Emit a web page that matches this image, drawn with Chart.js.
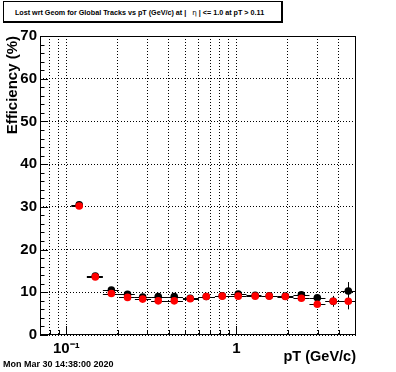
<!DOCTYPE html>
<html lang="en">
<head>
    <meta charset="UTF-8">
    <title>Lost wrt Geom for Global Tracks vs pT</title>
    <script src="https://cdn.jsdelivr.net/npm/chart.js@4.4.0/dist/chart.umd.min.js"></script>
    <style>
        html, body {
            margin: 0;
            padding: 0;
            background: #fff;
        }
        #wrap {
            position: relative;
            width: 396px;
            height: 372px;
            overflow: hidden;
            font-family: "Liberation Sans", Arial, sans-serif;
        }
        #chart {
            position: absolute;
            left: 0;
            top: 0;
        }
        .title-box {
            position: absolute;
            left: 3px;
            top: 1px;
            width: 277px;
            height: 19px;
            border: 1px solid #000;
            border-right-width: 2px;
            border-bottom-width: 2px;
            background: #fff;
            font-weight: bold;
            font-size: 7.2px;
            line-height: 21px;
            text-align: center;
            white-space: nowrap;
        }
        .title-box .eta {
            font-weight: normal;
            font-family: "DejaVu Sans", sans-serif;
        }
        .stamp {
            position: absolute;
            left: 3px;
            top: 359px;
            font-size: 9px;
            font-weight: bold;
            white-space: nowrap;
        }
    </style>
</head>
<body>
<div id="wrap">
    <canvas id="chart" width="396" height="372"></canvas>
    <div class="title-box">Lost wrt Geom for Global Tracks vs pT (GeV/c) at |&nbsp;&nbsp; <span class="eta">η</span> | &lt;= 1.0 at pT &gt; 0.11&nbsp;&nbsp;&nbsp;</div>
    <div class="stamp">Mon Mar 30 14:38:00 2020</div>
</div>
<script>
    // pT bin centres and edges (GeV/c)
    const ptCenter = [0.119, 0.148, 0.184, 0.229, 0.281, 0.347, 0.431, 0.535, 0.665, 0.826, 1.025, 1.29, 1.56, 1.94, 2.41, 2.99, 3.71, 4.55];
    const ptLow    = [0.107, 0.132, 0.164, 0.204, 0.253, 0.315, 0.391, 0.485, 0.602, 0.748, 0.929, 1.146, 1.404, 1.743, 2.165, 2.689, 3.339, 4.118];
    const ptHigh   = [0.125, 0.164, 0.204, 0.253, 0.315, 0.391, 0.485, 0.602, 0.748, 0.929, 1.146, 1.404, 1.743, 2.165, 2.689, 3.339, 4.118, 5.1];

    // efficiency (%) for the two track samples
    const effBlack = [30.5, 13.8, 10.5, 9.5, 8.9, 9.0, 9.0, 8.6, 9.0, 9.2, 9.6, 9.3, 9.2, 9.1, 9.4, 8.7, 7.9, 10.3];
    const errBlack = [0.4, 0.3, 0.3, 0.3, 0.3, 0.3, 0.3, 0.3, 0.3, 0.3, 0.3, 0.3, 0.3, 0.4, 0.4, 0.6, 1.2, 2.1];
    const effRed   = [30.2, 13.6, 9.7, 8.8, 8.4, 8.0, 8.0, 8.5, 9.0, 9.1, 9.1, 9.1, 9.1, 9.0, 8.6, 7.2, 7.9, 7.9];
    const errRed   = [0.4, 0.3, 0.3, 0.3, 0.3, 0.3, 0.3, 0.3, 0.3, 0.3, 0.3, 0.3, 0.3, 0.4, 0.4, 0.6, 1.25, 1.9];

    // axis ticks
    const xTickValues = [0.08, 0.09, 0.1, 0.2, 0.3, 0.4, 0.5, 0.6, 0.7, 0.8, 0.9, 1, 2, 3, 4, 5];
    const xTickLabels = { '0.1': '10\u207B\u00B9', '1': '1' };
    const xMajor = [0.1, 1];
    const yTickValues = [0, 10, 20, 30, 40, 50, 60, 70];

    function points(eff, err) {
        return ptCenter.map((pt, i) => ({ x: pt, y: eff[i], xLo: ptLow[i], xHi: ptHigh[i], err: err[i] }));
    }

    // frame, inside tick marks and error bars (ROOT style)
    const rootFrame = {
        id: 'rootFrame',
        beforeDatasetsDraw(chart) {
            const { ctx, chartArea: a, scales: { x, y } } = chart;
            ctx.save();
            ctx.strokeStyle = '#000';
            ctx.lineWidth = 1;

            // y ticks, 5 subdivisions per major step
            ctx.beginPath();
            for (let i = 0; i < yTickValues.length; i++) {
                const py = Math.round(y.getPixelForValue(yTickValues[i])) + 0.5;
                ctx.moveTo(a.left, py);
                ctx.lineTo(a.left + 8, py);
                if (i < yTickValues.length - 1) {
                    const step = (yTickValues[i + 1] - yTickValues[i]) / 5;
                    for (let k = 1; k < 5; k++) {
                        const my = Math.round(y.getPixelForValue(yTickValues[i] + k * step)) + 0.5;
                        ctx.moveTo(a.left, my);
                        ctx.lineTo(a.left + 4.5, my);
                    }
                }
            }
            // x ticks
            xTickValues.forEach(v => {
                const px = Math.round(x.getPixelForValue(v)) + 0.5;
                const len = xMajor.includes(v) ? 9 : 5;
                ctx.moveTo(px, a.bottom);
                ctx.lineTo(px, a.bottom - len);
            });
            ctx.stroke();

            // frame
            ctx.strokeRect(Math.round(a.left) + 0.5, Math.round(a.top) + 0.5,
                Math.round(a.width) - 1, Math.round(a.height) - 1);

            // error bars
            ctx.beginPath();
            ctx.rect(a.left, a.top, a.width, a.height);
            ctx.clip();
            ctx.beginPath();
            chart.data.datasets.slice().reverse().forEach(ds => {
                ds.data.forEach(p => {
                    const px = Math.round(x.getPixelForValue(p.x)) + 0.5;
                    const py = Math.round(y.getPixelForValue(p.y)) + 0.5;
                    ctx.moveTo(x.getPixelForValue(p.xLo), py);
                    ctx.lineTo(x.getPixelForValue(p.xHi), py);
                    ctx.moveTo(px, y.getPixelForValue(p.y - p.err));
                    ctx.lineTo(px, y.getPixelForValue(p.y + p.err));
                });
            });
            ctx.stroke();
            ctx.restore();
        }
    };

    const rootFont = '"Liberation Sans", Arial, sans-serif';

    new Chart(document.getElementById('chart'), {
        type: 'scatter',
        data: {
            datasets: [{
                label: 'red',
                data: points(effRed, errRed),
                backgroundColor: 'rgb(255, 0, 0)',
                borderWidth: 0,
                pointRadius: 3.8
            }, {
                label: 'black',
                data: points(effBlack, errBlack),
                backgroundColor: 'rgb(0, 0, 0)',
                borderWidth: 0,
                pointRadius: 3.8
            }]
        },
        options: {
            responsive: false,
            devicePixelRatio: 1,
            animation: false,
            events: [],
            layout: { padding: { left: 0, top: 36, right: 40, bottom: 0 } },
            plugins: {
                legend: { display: false },
                tooltip: { enabled: false }
            },
            scales: {
                x: {
                    type: 'logarithmic',
                    min: 0.07,
                    max: 5.05,
                    afterFit(scale) { scale.height = 37; },
                    afterBuildTicks(scale) { scale.ticks = xTickValues.map(v => ({ value: v })); },
                    grid: { color: '#000', lineWidth: 1, drawTicks: false },
                    border: { display: false, dash: [1, 2] },
                    ticks: {
                        autoSkip: false,
                        maxRotation: 0,
                        padding: 5,
                        color: '#000',
                        font: { family: rootFont, size: 15, weight: 'bold' },
                        callback: v => xTickLabels[String(v)] || ''
                    },
                    title: {
                        display: true,
                        text: 'pT (GeV/c)',
                        align: 'end',
                        color: '#000',
                        padding: { top: 0, bottom: 6 },
                        font: { family: rootFont, size: 14.5, weight: 'bold' }
                    }
                },
                y: {
                    min: 0,
                    max: 70,
                    afterFit(scale) { scale.width = 40; },
                    afterBuildTicks(scale) { scale.ticks = yTickValues.map(v => ({ value: v })); },
                    grid: { color: '#000', lineWidth: 1, drawTicks: false },
                    border: { display: false, dash: [1, 2] },
                    ticks: {
                        padding: 3,
                        color: '#000',
                        font: { family: rootFont, size: 15, weight: 'bold' }
                    },
                    title: {
                        display: true,
                        text: 'Efficiency (%)',
                        align: 'end',
                        color: '#000',
                        padding: { top: 4, bottom: 0 },
                        font: { family: rootFont, size: 15, weight: 'bold' }
                    }
                }
            }
        },
        plugins: [rootFrame]
    });
</script>
</body>
</html>
